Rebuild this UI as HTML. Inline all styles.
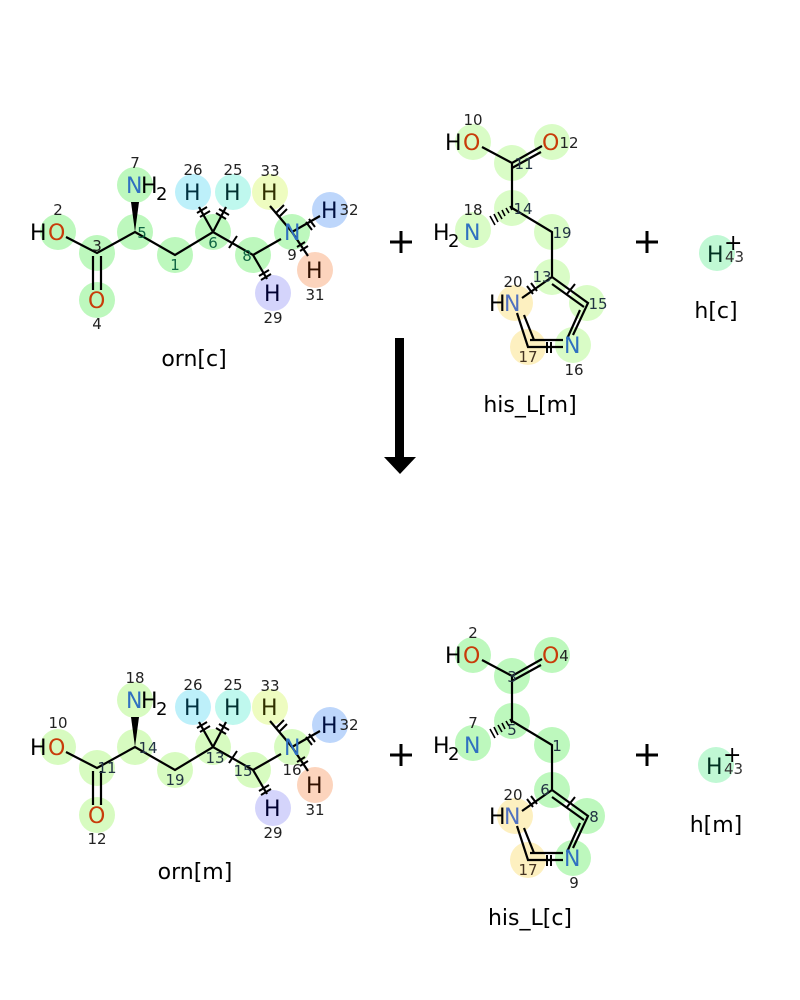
<!DOCTYPE html>
<html><head><meta charset="utf-8"><style>
html,body{margin:0;padding:0;background:#fff}
svg{display:block}
text{font-family:"DejaVu Sans","Liberation Sans",sans-serif}
.a{font-size:22px}
.n{font-size:15px;fill:#222}
.l{font-size:22px;fill:#000}
.b{stroke:#000;stroke-width:2.2;fill:none}
.t{stroke:#000;stroke-width:2;}
</style></head><body>
<svg width="800" height="1000" viewBox="0 0 800 1000" xmlns="http://www.w3.org/2000/svg">

<!-- ===== ORN TOP ===== -->
<g>
<g fill="#bdf8bd">
<circle cx="58" cy="232" r="18"/><circle cx="97" cy="253" r="18"/><circle cx="97" cy="300" r="18"/>
<circle cx="135" cy="232" r="18"/><circle cx="135" cy="185" r="18"/><circle cx="175" cy="255" r="18"/>
<circle cx="213" cy="232" r="18"/><circle cx="253" cy="255" r="18"/><circle cx="292" cy="232" r="18"/>
</g>
<circle cx="193" cy="192" r="18" fill="#bdf0fa"/><circle cx="233" cy="192" r="18" fill="#bff8ee"/>
<circle cx="270" cy="192" r="18" fill="#eefcc0"/><circle cx="330" cy="210" r="18" fill="#bdd6fb"/>
<circle cx="315" cy="270" r="18" fill="#fcd4bd"/><circle cx="273" cy="293" r="18" fill="#d4d4fb"/>
<path class="b" d="M66 237 L97 253 L135 232 L175 255 L213 232 L253 255 L281 239 M213 232 L199 207 M213 232 L226 207 M253 255 L267 279 M292 232 L270 206 M292 232 L320 216 M292 232 L308 256"/>
<path class="b" d="M93 256 V290 M101 256 V290"/>
<polygon points="135,232 131,202 139,202" fill="#000"/>
<path class="t" d="M197 213 L207 207 M200 217 L210 211 M219 209 L229 215 M216 213 L226 219 M229 248 L237 236 M259 276 L269 270 M261 280 L271 274 M276 213 L284 205 M279 217 L287 209 M306 222 L312 230 M309 219 L315 227 M297 247 L305 242 M300 251 L308 246"/>
<text class="a" x="30" y="240" fill="#000">H</text><text class="a" x="48" y="240" fill="#c83c0a">O</text>
<text class="a" x="88" y="308" fill="#c83c0a">O</text>
<text class="a" x="126" y="193" fill="#3070c0">N</text><text class="a" x="141" y="193" fill="#000">H</text><text x="156" y="200" font-size="18">2</text>
<text class="a" x="284" y="240" fill="#3070c0">N</text>
<text class="a" x="184" y="200" fill="#003040">H</text><text class="a" x="224" y="200" fill="#003030">H</text>
<text class="a" x="261" y="200" fill="#303000">H</text><text class="a" x="321" y="218" fill="#001040">H</text>
<text class="a" x="306" y="278" fill="#301000">H</text><text class="a" x="264" y="301" fill="#000030">H</text>
</g>
<g class="n" text-anchor="middle">
<text x="58" y="215">2</text><text x="97" y="251">3</text><text x="97" y="329">4</text><text x="142" y="238" fill="#164">5</text>
<text x="135" y="168">7</text><text x="175" y="270" fill="#164">1</text><text x="213" y="248" fill="#164">6</text><text x="247" y="261" fill="#164">8</text>
<text x="292" y="260">9</text><text x="193" y="175">26</text><text x="233" y="175">25</text><text x="270" y="176">33</text>
<text x="349" y="215">32</text><text x="315" y="300">31</text><text x="273" y="323">29</text>
</g>
<text class="l" x="194" y="366" text-anchor="middle">orn[c]</text>

<!-- ===== ORN BOTTOM ===== -->
<g transform="translate(0,515)">
<g fill="#d7fbc0">
<circle cx="58" cy="232" r="18"/><circle cx="97" cy="253" r="18"/><circle cx="97" cy="300" r="18"/>
<circle cx="135" cy="232" r="18"/><circle cx="135" cy="185" r="18"/><circle cx="175" cy="255" r="18"/>
<circle cx="213" cy="232" r="18"/><circle cx="253" cy="255" r="18"/><circle cx="292" cy="232" r="18"/>
</g>
<circle cx="193" cy="192" r="18" fill="#bdf0fa"/><circle cx="233" cy="192" r="18" fill="#bff8ee"/>
<circle cx="270" cy="192" r="18" fill="#eefcc0"/><circle cx="330" cy="210" r="18" fill="#bdd6fb"/>
<circle cx="315" cy="270" r="18" fill="#fcd4bd"/><circle cx="273" cy="293" r="18" fill="#d4d4fb"/>
<path class="b" d="M66 237 L97 253 L135 232 L175 255 L213 232 L253 255 L281 239 M213 232 L199 207 M213 232 L226 207 M253 255 L267 279 M292 232 L270 206 M292 232 L320 216 M292 232 L308 256"/>
<path class="b" d="M93 256 V290 M101 256 V290"/>
<polygon points="135,232 131,202 139,202" fill="#000"/>
<path class="t" d="M197 213 L207 207 M200 217 L210 211 M219 209 L229 215 M216 213 L226 219 M229 248 L237 236 M259 276 L269 270 M261 280 L271 274 M276 213 L284 205 M279 217 L287 209 M306 222 L312 230 M309 219 L315 227 M297 247 L305 242 M300 251 L308 246"/>
<text class="a" x="30" y="240" fill="#000">H</text><text class="a" x="48" y="240" fill="#c83c0a">O</text>
<text class="a" x="88" y="308" fill="#c83c0a">O</text>
<text class="a" x="126" y="193" fill="#3070c0">N</text><text class="a" x="141" y="193" fill="#000">H</text><text x="156" y="200" font-size="18">2</text>
<text class="a" x="284" y="240" fill="#3070c0">N</text>
<text class="a" x="184" y="200" fill="#003040">H</text><text class="a" x="224" y="200" fill="#003030">H</text>
<text class="a" x="261" y="200" fill="#303000">H</text><text class="a" x="321" y="218" fill="#001040">H</text>
<text class="a" x="306" y="278" fill="#301000">H</text><text class="a" x="264" y="301" fill="#000030">H</text>
<g class="n" text-anchor="middle">
<text x="58" y="213">10</text><text x="107" y="258" fill="#234">11</text><text x="97" y="329">12</text><text x="148" y="238" fill="#234">14</text>
<text x="135" y="168">18</text><text x="175" y="270" fill="#234">19</text><text x="215" y="248" fill="#234">13</text><text x="243" y="261" fill="#234">15</text>
<text x="292" y="260">16</text><text x="193" y="175">26</text><text x="233" y="175">25</text><text x="270" y="176">33</text>
<text x="349" y="215">32</text><text x="315" y="300">31</text><text x="273" y="323">29</text>
</g>
</g>
<text class="l" x="195" y="879" text-anchor="middle">orn[m]</text>

<!-- ===== HIS TOP ===== -->
<g>
<g fill="#d9fcc6">
<circle cx="473" cy="142" r="18"/><circle cx="512" cy="163" r="18"/><circle cx="552" cy="142" r="18"/>
<circle cx="512" cy="208" r="18"/><circle cx="473" cy="230" r="18"/><circle cx="552" cy="232" r="18"/>
<circle cx="552" cy="277" r="18"/><circle cx="587" cy="303" r="18"/><circle cx="573" cy="345" r="18"/>
</g>
<circle cx="515" cy="303" r="18" fill="#fdf0c0"/><circle cx="528" cy="347" r="18" fill="#fdf0c0"/>
<path class="b" d="M482 147 L512 163 L542 146 M512 168 L541 152 M512 163 V208 L552 232 V277 L588 303 L573 335 M580 310 L567 339 M552 277 L522 298 M552 284 L584 307 M517 313 L528 347 L563 347 M530 340 L563 340 M524 315 L534 340"/>
<g stroke="#000" stroke-width="1.6">
<line x1="510" y1="206" x2="512" y2="210"/><line x1="506" y1="208" x2="509" y2="213"/><line x1="502" y1="210" x2="505" y2="216"/><line x1="498" y1="212" x2="502" y2="219"/><line x1="494" y1="214" x2="498" y2="222"/><line x1="490" y1="216" x2="495" y2="225"/>
</g>
<path class="t" d="M527 286 L533 294 M531 283 L537 291 M567 294 L575 284 M547 342 V353 M551 342 V353"/>
<text class="a" x="445" y="150" fill="#000">H</text><text class="a" x="463" y="150" fill="#c83c0a">O</text>
<text class="a" x="542" y="150" fill="#c83c0a">O</text>
<text class="a" x="433" y="240" fill="#000">H</text><text x="448" y="247" font-size="18">2</text><text class="a" x="464" y="240" fill="#3070c0">N</text>
<text class="a" x="489" y="311" fill="#000">H</text><text class="a" x="504" y="311" fill="#5070c0">N</text>
<text class="a" x="564" y="353" fill="#3070c0">N</text>
<g class="n" text-anchor="middle">
<text x="473" y="125">10</text><text x="524" y="169" fill="#234">11</text><text x="569" y="148">12</text><text x="523" y="214" fill="#234">14</text>
<text x="473" y="215">18</text><text x="562" y="238" fill="#234">19</text><text x="542" y="282" fill="#234">13</text><text x="598" y="309" fill="#234">15</text>
<text x="574" y="375">16</text><text x="528" y="362" fill="#432">17</text><text x="513" y="287">20</text>
</g>
</g>
<text class="l" x="530" y="412" text-anchor="middle">his_L[m]</text>

<!-- ===== HIS BOTTOM ===== -->
<g transform="translate(0,513)">
<g fill="#bdf8bd">
<circle cx="473" cy="142" r="18"/><circle cx="512" cy="163" r="18"/><circle cx="552" cy="142" r="18"/>
<circle cx="512" cy="208" r="18"/><circle cx="473" cy="230" r="18"/><circle cx="552" cy="232" r="18"/>
<circle cx="552" cy="277" r="18"/><circle cx="587" cy="303" r="18"/><circle cx="573" cy="345" r="18"/>
</g>
<circle cx="515" cy="303" r="18" fill="#fdf0c0"/><circle cx="528" cy="347" r="18" fill="#fdf0c0"/>
<path class="b" d="M482 147 L512 163 L542 146 M512 168 L541 152 M512 163 V208 L552 232 V277 L588 303 L573 335 M580 310 L567 339 M552 277 L522 298 M552 284 L584 307 M517 313 L528 347 L563 347 M530 340 L563 340 M524 315 L534 340"/>
<g stroke="#000" stroke-width="1.6">
<line x1="510" y1="206" x2="512" y2="210"/><line x1="506" y1="208" x2="509" y2="213"/><line x1="502" y1="210" x2="505" y2="216"/><line x1="498" y1="212" x2="502" y2="219"/><line x1="494" y1="214" x2="498" y2="222"/><line x1="490" y1="216" x2="495" y2="225"/>
</g>
<path class="t" d="M527 286 L533 294 M531 283 L537 291 M567 294 L575 284 M547 342 V353 M551 342 V353"/>
<text class="a" x="445" y="150" fill="#000">H</text><text class="a" x="463" y="150" fill="#c83c0a">O</text>
<text class="a" x="542" y="150" fill="#c83c0a">O</text>
<text class="a" x="433" y="240" fill="#000">H</text><text x="448" y="247" font-size="18">2</text><text class="a" x="464" y="240" fill="#3070c0">N</text>
<text class="a" x="489" y="311" fill="#000">H</text><text class="a" x="504" y="311" fill="#5070c0">N</text>
<text class="a" x="564" y="353" fill="#3070c0">N</text>
<g class="n" text-anchor="middle">
<text x="473" y="125">2</text><text x="512" y="169" fill="#234">3</text><text x="564" y="148">4</text><text x="512" y="222" fill="#234">5</text>
<text x="473" y="215">7</text><text x="557" y="238" fill="#234">1</text><text x="545" y="282" fill="#234">6</text><text x="594" y="309" fill="#234">8</text>
<text x="574" y="375">9</text><text x="528" y="362" fill="#432">17</text><text x="513" y="287">20</text>
</g>
</g>
<text class="l" x="530" y="925" text-anchor="middle">his_L[c]</text>

<!-- ===== H+ ===== -->
<circle cx="717" cy="253" r="18" fill="#c0f8d4"/>
<text class="a" x="707" y="262" fill="#003020">H</text><text x="725" y="262" font-size="15" fill="#333">43</text><text x="724" y="250" font-size="22">+</text>
<text class="l" x="716" y="318" text-anchor="middle">h[c]</text>
<circle cx="716" cy="765" r="18" fill="#c0f8d4"/>
<text class="a" x="706" y="774" fill="#003020">H</text><text x="724" y="774" font-size="15" fill="#333">43</text><text x="723" y="762" font-size="22">+</text>
<text class="l" x="716" y="832" text-anchor="middle">h[m]</text>

<!-- plus signs -->
<path d="M390 242 H412 M401 231 V253 M636 242 H658 M647 231 V253 M390 755 H412 M401 744 V766 M636 755 H658 M647 744 V766" stroke="#000" stroke-width="3"/>

<!-- arrow -->
<rect x="395" y="338" width="9" height="122" fill="#000"/>
<polygon points="384,457 416,457 400,474" fill="#000"/>
</svg>
</body></html>
